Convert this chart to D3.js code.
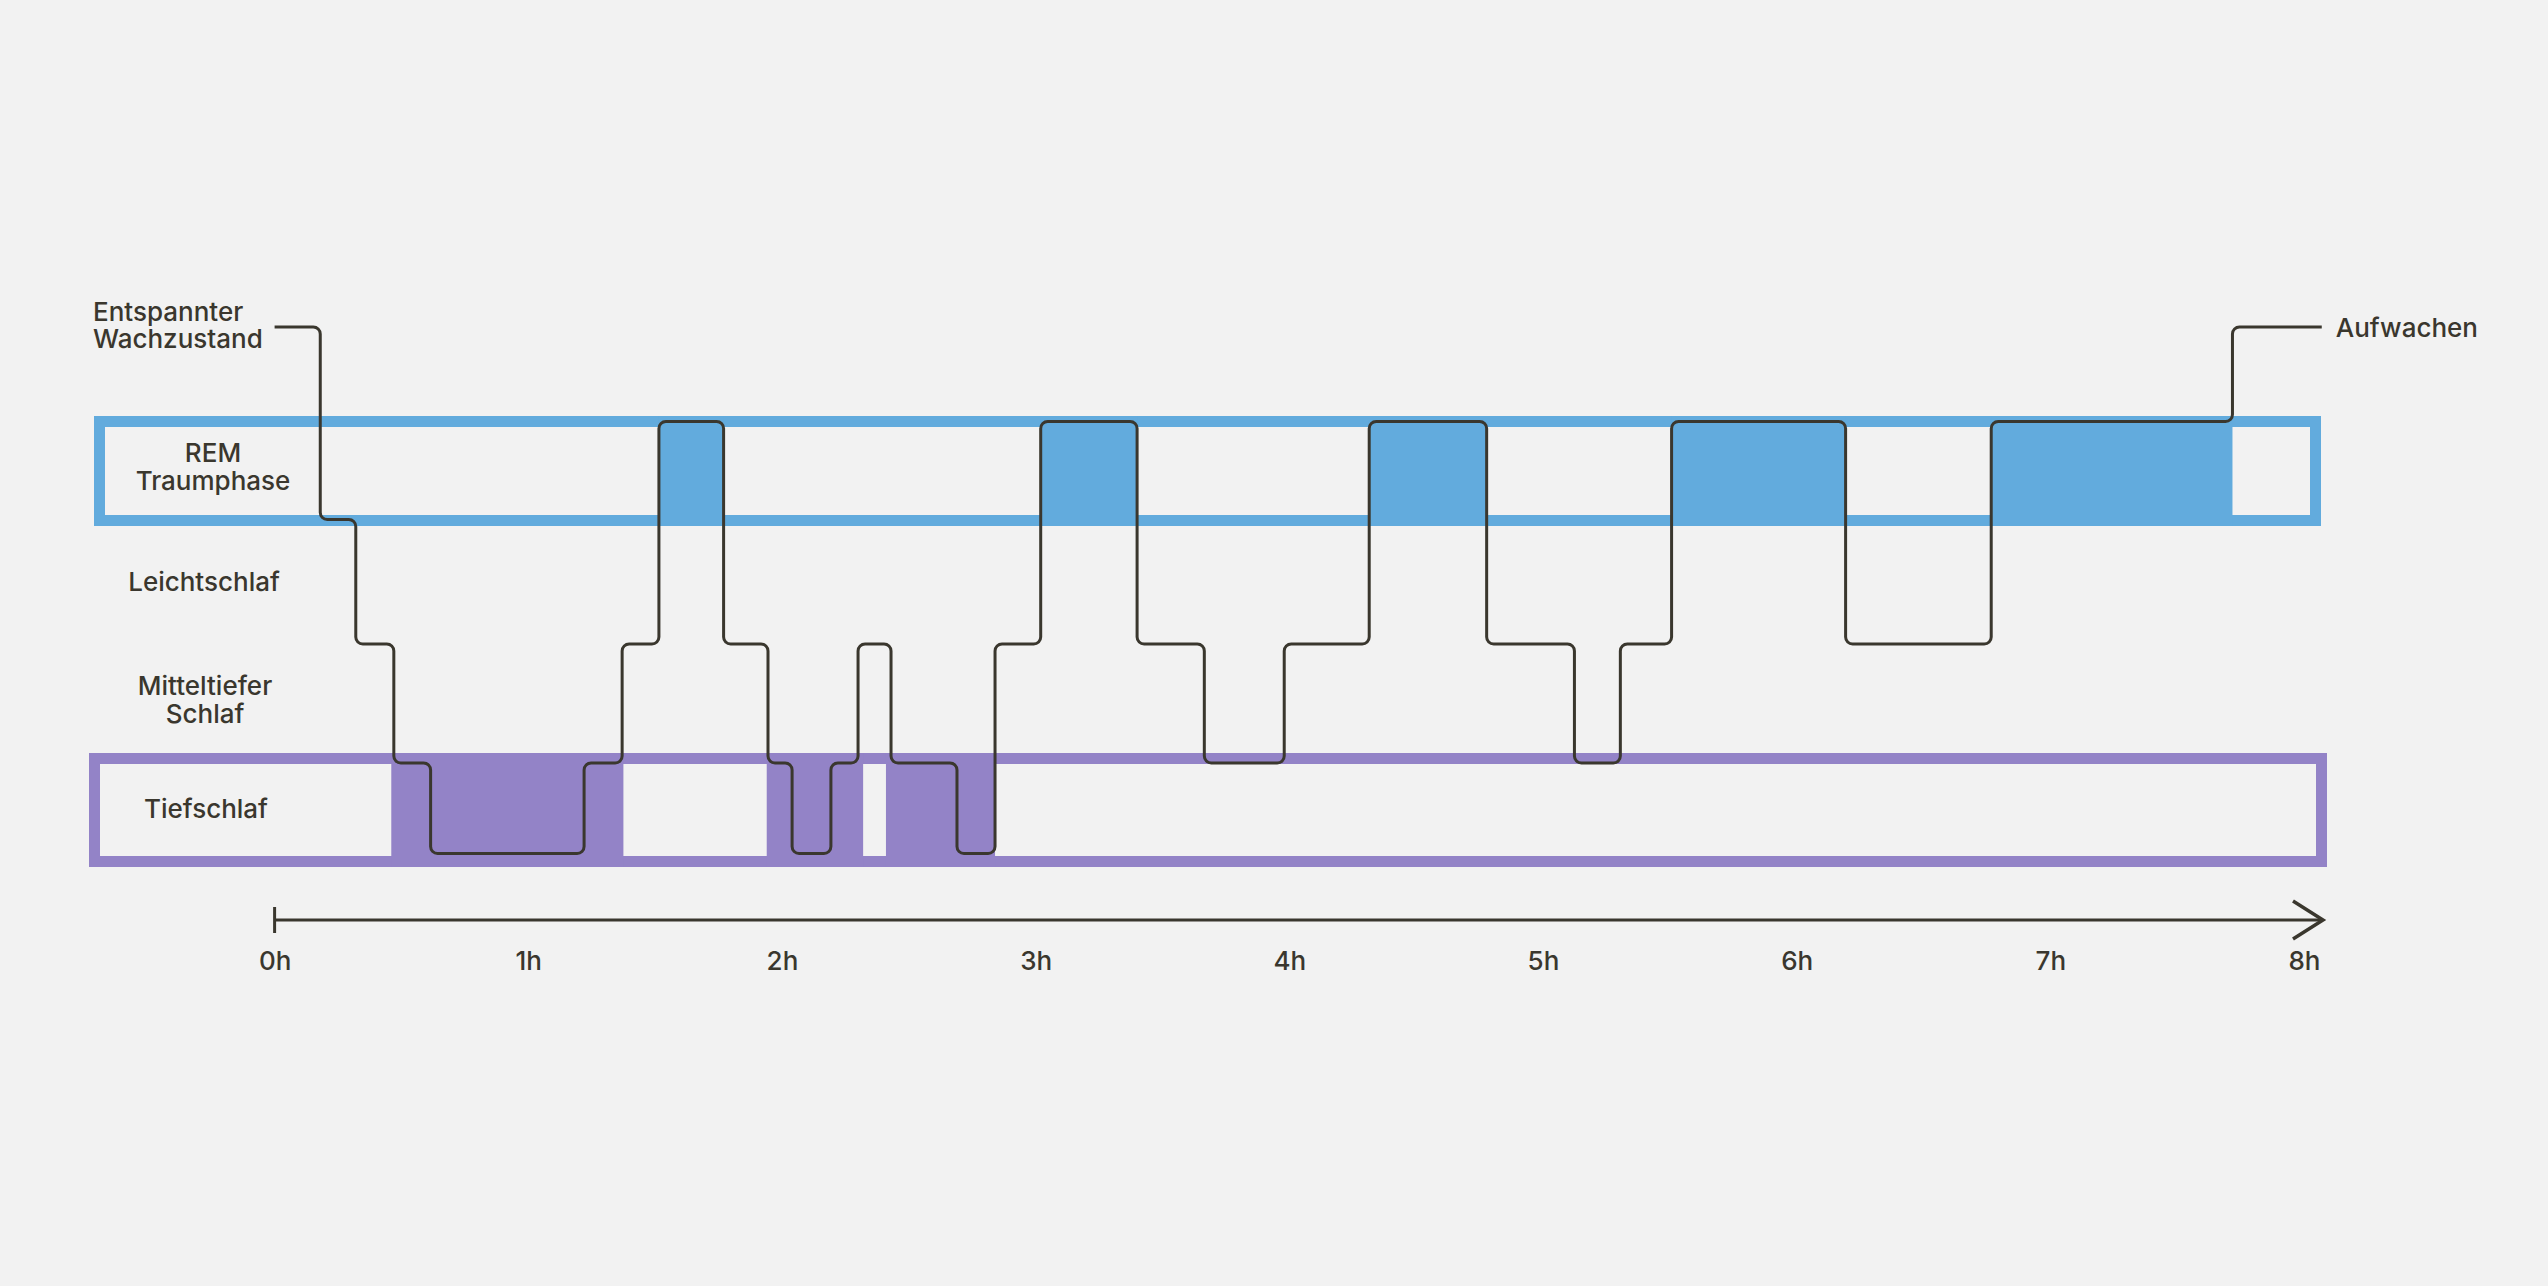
<!DOCTYPE html>
<html lang="de">
<head>
<meta charset="utf-8">
<title>Schlafphasen</title>
<script src="https://cdn.jsdelivr.net/npm/d3@7"></script>
<style>
  html, body { margin: 0; padding: 0; background: #f2f2f2; }
  svg { display: block; }
  text { font-family: Inter, "Noto Sans", sans-serif; font-weight: 500; fill: #3a372e; }
</style>
</head>
<body>
<div id="chart"></div>
<script>
// Schlafverlauf: ab welcher Stunde welche Stufe gilt
const phasenStart = [0, 0.18, 0.32, 0.47, 0.615, 1.22, 1.37, 1.515, 1.77, 1.945, 2.04, 2.193, 2.30,
  2.43, 2.69, 2.84, 3.02, 3.40, 3.665, 3.98, 4.315, 4.778, 5.124, 5.305, 5.507, 6.193, 6.767, 7.718];
const phasenStufe = ["wach", "n1", "n2", "n3", "n4", "n3", "n2", "rem", "n2", "n3", "n4", "n3", "n2",
  "n3", "n4", "n2", "rem", "n2", "n3", "n2", "rem", "n2", "n3", "n2", "rem", "n2", "rem", "wach"];
const schlafEnde = 8.07;

// Markierte Abschnitte in den Bändern (Stunden von / bis)
const remAbschnitte = [[1.515, 1.77], [3.02, 3.40], [4.315, 4.778], [5.507, 6.193], [6.767, 7.718]];
const tiefAbschnitte = [[0.46, 1.375], [1.94, 2.32], [2.41, 2.84]];

// Achse
const stunden = [0, 1, 2, 3, 4, 5, 6, 7, 8];

// Beschriftungen
const stufenLabels = [
  { zeilen: ["REM", "Traumphase"], stufe: "rem" },
  { zeilen: ["Leichtschlaf"], stufe: "leicht" },
  { zeilen: ["Mitteltiefer", "Schlaf"], stufe: "mittel" },
  { zeilen: ["Tiefschlaf"], stufe: "tief" }
];
const startLabel = ["Entspannter", "Wachzustand"];
const endLabel = "Aufwachen";

const width = 2548, height = 1286;
const tinte = "#3a372e";
const blau = "#62abdd";
const lila = "#9383c7";
const rand = 11;

// Bänder
const remBand = { x0: 94, x1: 2321, y0: 416, y1: 526 };
const tiefBand = { x0: 89, x1: 2327, y0: 753, y1: 867 };

const svg = d3.select("#chart").append("svg")
  .attr("width", width)
  .attr("height", height);

svg.append("rect").attr("width", width).attr("height", height).attr("fill", "#f2f2f2");

// Skalen
const x = d3.scaleLinear().domain([0, 8]).range([274.6, 2304]);

const y = d3.scaleOrdinal()
  .domain(["wach", "rem", "n1", "n2", "n3", "n4"])
  .range([327, remBand.y0 + rand / 2, remBand.y1 - rand / 2 - 1, 644, tiefBand.y0 + rand - 1, tiefBand.y1 - rand - 2.5]);

// Band zeichnen
function zeichneBand(band, farbe, abschnitte) {
  const g = svg.append("g");
  g.append("rect")
    .attr("x", band.x0 + rand / 2)
    .attr("y", band.y0 + rand / 2)
    .attr("width", band.x1 - band.x0 - rand)
    .attr("height", band.y1 - band.y0 - rand)
    .attr("fill", "none")
    .attr("stroke", farbe)
    .attr("stroke-width", rand);
  g.selectAll("rect.abschnitt")
    .data(abschnitte)
    .join("rect")
    .attr("class", "abschnitt")
    .attr("x", d => x(d[0]))
    .attr("width", d => x(d[1]) - x(d[0]))
    .attr("y", band.y0)
    .attr("height", band.y1 - band.y0)
    .attr("fill", farbe);
}

zeichneBand(remBand, blau, remAbschnitte);
zeichneBand(tiefBand, lila, tiefAbschnitte);

// Stufenlinie mit abgerundeten Ecken
const punkte = [[x(phasenStart[0]), y(phasenStufe[0])]];
for (let i = 1; i < phasenStart.length; i++) {
  punkte.push([x(phasenStart[i]), y(phasenStufe[i - 1])]);
  punkte.push([x(phasenStart[i]), y(phasenStufe[i])]);
}
punkte.push([x(schlafEnde), y(phasenStufe[phasenStufe.length - 1])]);

function rundePfad(p, r) {
  const path = d3.path();
  path.moveTo(p[0][0], p[0][1]);
  for (let i = 1; i < p.length - 1; i++) {
    const a = p[i - 1], b = p[i], c = p[i + 1];
    const l1 = Math.hypot(b[0] - a[0], b[1] - a[1]);
    const l2 = Math.hypot(c[0] - b[0], c[1] - b[1]);
    const rr = Math.min(r, l1 / 2, l2 / 2);
    if (rr < 0.5) { path.lineTo(b[0], b[1]); continue; }
    path.arcTo(b[0], b[1], c[0], c[1], rr);
  }
  path.lineTo(p[p.length - 1][0], p[p.length - 1][1]);
  return path.toString();
}

svg.append("path")
  .attr("d", rundePfad(punkte, 7))
  .attr("fill", "none")
  .attr("stroke", tinte)
  .attr("stroke-width", 3)
  .attr("stroke-linejoin", "round");

// Stufenbeschriftung links
const labelPos = {
  rem: { cx: 213, base: 462 },
  leicht: { cx: 204, base: 591 },
  mittel: { cx: 205, base: 695 },
  tief: { cx: 206, base: 818 }
};
stufenLabels.forEach(l => {
  const t = svg.append("text")
    .attr("text-anchor", "middle")
    .attr("font-size", 26);
  l.zeilen.forEach((z, i) => {
    t.append("tspan")
      .attr("x", labelPos[l.stufe].cx)
      .attr("y", labelPos[l.stufe].base + i * 27.5)
      .text(z);
  });
});

const start = svg.append("text").attr("font-size", 26);
startLabel.forEach((z, i) => {
  start.append("tspan").attr("x", 93).attr("y", 320.5 + i * 27.5).text(z);
});

svg.append("text")
  .attr("x", x(schlafEnde) + 14)
  .attr("y", y("wach") + 9.5)
  .attr("font-size", 26)
  .text(endLabel);

// Zeitachse
const axisY = 920;
const pfeilSpitze = x(8) + 19;
const achse = svg.append("g");
achse.append("line")
  .attr("x1", x(0)).attr("x2", pfeilSpitze)
  .attr("y1", axisY).attr("y2", axisY)
  .attr("stroke", tinte).attr("stroke-width", 3);
achse.append("line")
  .attr("x1", x(0)).attr("x2", x(0))
  .attr("y1", axisY - 13).attr("y2", axisY + 13)
  .attr("stroke", tinte).attr("stroke-width", 3);
achse.append("path")
  .attr("d", `M${pfeilSpitze - 30},${axisY - 19}L${pfeilSpitze},${axisY}L${pfeilSpitze - 30},${axisY + 19}`)
  .attr("fill", "none")
  .attr("stroke", tinte)
  .attr("stroke-width", 3.5)
  .attr("stroke-linejoin", "miter");

const xAxis = d3.axisBottom(x)
  .tickValues(stunden)
  .tickFormat(d => d + "h")
  .tickSize(0)
  .tickPadding(32);

svg.append("g")
  .attr("transform", `translate(0,${axisY})`)
  .call(xAxis)
  .call(g => g.select(".domain").remove())
  .call(g => g.selectAll("text")
    .attr("font-size", 26)
    .attr("font-family", "Inter, 'Noto Sans', sans-serif")
    .attr("font-weight", 500)
    .attr("fill", tinte));
</script>
</body>
</html>
